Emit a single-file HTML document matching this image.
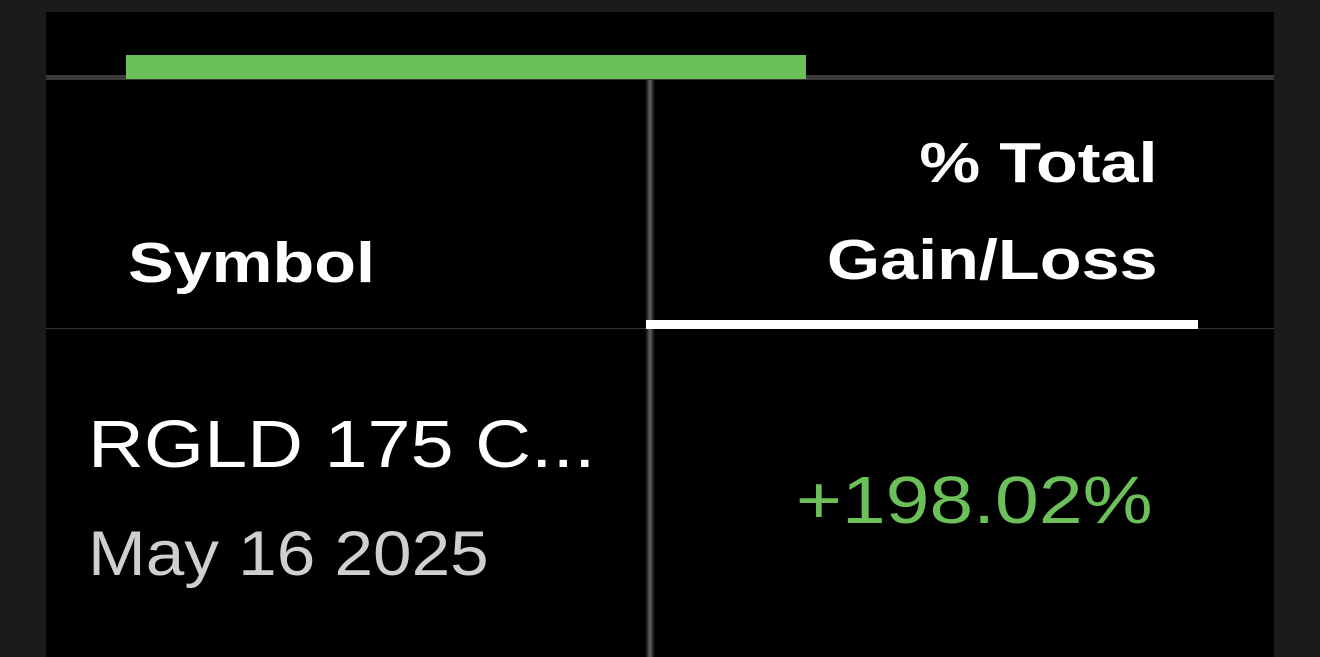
<!DOCTYPE html>
<html><head><meta charset="utf-8"><style>
body{margin:0;width:1320px;height:657px;background:#1b1b1b;overflow:hidden;font-family:"Liberation Sans",sans-serif;}
#panel{position:absolute;left:46px;top:12px;width:1228px;height:645px;background:#000;}
.abs{position:absolute;white-space:nowrap;}
</style></head><body>
<div id="panel"></div>
<div class="abs" style="left:46px;top:75px;width:1228px;height:5px;background:#3a3a3a"></div>
<div class="abs" style="left:126px;top:55px;width:680px;height:24px;background:#6cc05a"></div>
<div class="abs" style="left:645px;top:80px;width:10px;height:577px;background:linear-gradient(90deg,#000,#555 45%,#777 50%,#555 55%,#000)"></div>
<div class="abs" style="left:46px;top:328px;width:1228px;height:1px;background:#333"></div>
<div class="abs" style="left:646px;top:320px;width:552px;height:9px;background:#fff"></div>
<div class="abs" style="left:128px;top:230px;font-size:57px;font-weight:bold;color:#fff;transform:scaleX(1.2);transform-origin:left">Symbol</div>
<div class="abs" style="right:162px;top:115px;font-size:57px;font-weight:bold;color:#fff;text-align:right;line-height:97px;transform:scaleX(1.2);transform-origin:right">% Total<br>Gain/Loss</div>
<div class="abs" style="left:88px;top:406px;font-size:67px;color:#fff;transform:scaleX(1.155);transform-origin:left">RGLD 175 C...</div>
<div class="abs" style="left:88px;top:518px;font-size:63px;color:#cfcfcf;transform:scaleX(1.1);transform-origin:left">May 16 2025</div>
<div class="abs" style="right:167px;top:462px;font-size:67px;color:#6cc05a;transform:scaleX(1.175);transform-origin:right">+198.02%</div>
</body></html>
